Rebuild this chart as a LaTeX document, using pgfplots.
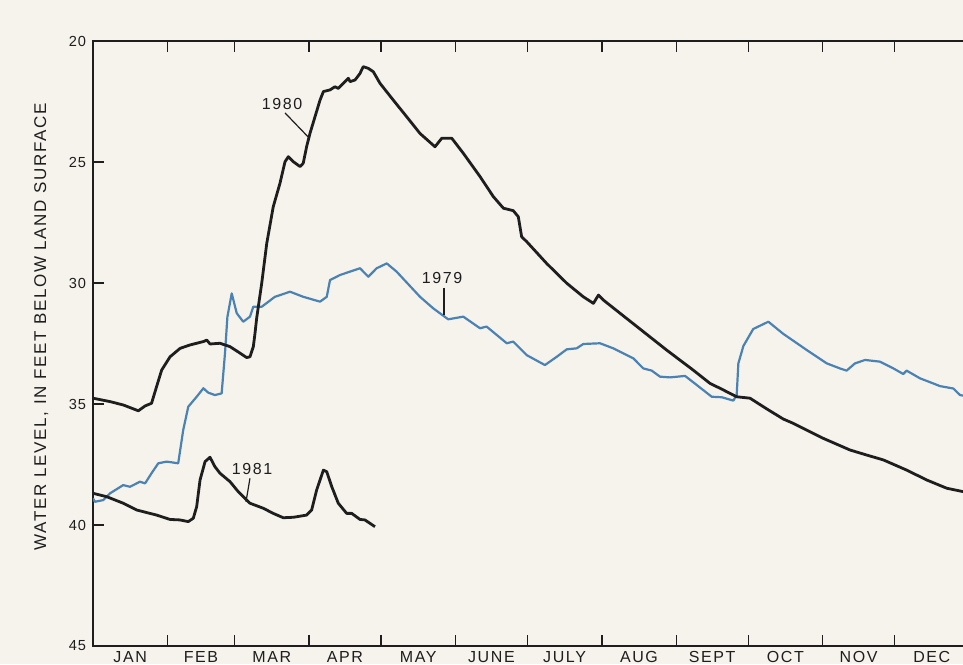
\documentclass[border=0pt]{standalone}
\usepackage{fontspec}
\setmainfont{Liberation Sans}
\newfontfamily\lab[LetterSpace=10]{Liberation Sans}
\newfontfamily\tk[LetterSpace=6]{Liberation Sans}
\usepackage{pgfplots}
\pgfplotsset{compat=1.18}
\definecolor{paper}{RGB}{246,243,236}
\definecolor{ink}{RGB}{30,30,30}
\definecolor{blueline}{RGB}{75,130,180}
\begin{document}
\begin{tikzpicture}
\fill[paper] (-46.5pt,-9pt) rectangle (435pt,323pt);
\begin{axis}[
 at={(0,0)}, anchor=south west,
 scale only axis, width=438pt, height=302.5pt,
 xmin=0, xmax=365, ymin=20, ymax=45, y dir=reverse,
 axis line style={draw=ink, line width=0.9pt},
 xtick={0,31,59,90,120,151,181,212,243,273,304,334,365},
 xticklabels={JAN,FEB,MAR,APR,MAY,JUNE,JULY,AUG,SEPT,OCT,NOV,DEC},
 x tick label as interval,
 ytick={20,25,30,35,40,45},
 ytick pos=left,
 xtick pos=both,
 tick align=inside,
 major tick length=5.5pt,
 tick style={draw=ink, line width=0.7pt},
 /pgf/number format/assume math mode=true,
 ticklabel style={font=\tk\fontsize{7.3}{8}\selectfont, text=ink},
 xticklabel style={font=\lab\fontsize{8}{9}\selectfont, inner sep=0pt, yshift=-2.6pt},
 ylabel={WATER LEVEL, IN FEET BELOW LAND SURFACE},
 ylabel style={font=\lab\fontsize{8.5}{9}\selectfont, text=ink, at={(axis description cs:-0.043,0.528)}, anchor=south},
]
% 1979 (blue)
\addplot[blueline, line width=1.1pt, no markers, line join=round] coordinates {
(0,38.9)(0.8,39.04)(4.3,38.97)(7.1,38.69)(12.6,38.35)(15.4,38.42)(19.6,38.21)(21.7,38.28)(24.4,37.86)(27.2,37.45)(30.7,37.38)(35.5,37.45)(37.6,36.07)(39.7,35.11)(43.2,34.7)(46,34.35)(48,34.53)(50.8,34.63)(53.6,34.56)(55,32.9)(56,31.4)(57.8,30.43)(59.9,31.25)(62.6,31.6)(65.4,31.39)(66.8,30.98)(70.3,30.98)(75.8,30.57)(82.1,30.36)(87.6,30.57)(94.6,30.77)(97.4,30.57)(98.75,29.88)(102.9,29.67)(107.1,29.53)(111.25,29.39)(114.7,29.74)(118.2,29.39)(122.4,29.19)(126.5,29.53)(136.25,30.57)(141.8,31.05)(148,31.5)(154.3,31.39)(161.25,31.87)(164,31.8)(172.4,32.49)(175.1,32.42)(180.7,32.98)(188.3,33.39)(193.2,33.05)(197.4,32.74)(201.5,32.7)(204.3,32.52)(211.25,32.49)(216.8,32.7)(219.6,32.84)(225.1,33.11)(229.3,33.53)(232.8,33.62)(236.25,33.87)(240.4,33.9)(246.7,33.84)(251.5,34.21)(257.8,34.7)(262,34.72)(266.8,34.86)(268.2,34.63)(268.9,33.32)(271,32.6)(275.1,31.9)(281.4,31.6)(287.6,32.1)(297.4,32.77)(305.7,33.32)(311.25,33.53)(314,33.62)(317.5,33.32)(321.7,33.18)(327.9,33.25)(333.5,33.53)(337.6,33.76)(339,33.62)(344.6,33.94)(350.1,34.15)(352.9,34.26)(358.5,34.36)(361.25,34.63)(365,34.7)
};
% 1980 (black)
\addplot[ink, line width=1.4pt, no markers, line join=round] coordinates {
(0,34.76)(7.1,34.9)(12.6,35.04)(18.9,35.28)(21.7,35.08)(24.4,34.97)(26.5,34.28)(28.6,33.6)(32.1,33.05)(36.3,32.7)(40.4,32.56)(46,32.42)(47.4,32.36)(48.8,32.52)(52.9,32.49)(57.1,32.63)(61.3,32.9)(64,33.08)(65.4,33.05)(66.8,32.63)(67.5,32.08)(68.2,31.45)(70.3,30.01)(72.4,28.36)(75.1,26.85)(77.9,25.88)(80,24.99)(81.4,24.78)(83.5,24.99)(86.3,25.19)(87.6,25.05)(89,24.37)(90.4,23.82)(92.5,23.13)(94.6,22.44)(96,22.09)(98.75,22.02)(100.8,21.89)(102.2,21.96)(105,21.68)(106.4,21.54)(107.1,21.68)(109.2,21.61)(111.25,21.34)(112.6,21.06)(114.7,21.13)(116.8,21.27)(119.6,21.75)(125.1,22.44)(130.7,23.13)(136.25,23.82)(142.5,24.37)(145.3,24.02)(149.5,24.02)(154.3,24.64)(161.25,25.6)(166.8,26.43)(171,26.91)(175.1,27.01)(177.2,27.26)(178.6,28.09)(180.7,28.29)(189,29.19)(197.4,30.01)(204.3,30.57)(208.5,30.84)(210.6,30.5)(212.6,30.7)(219.6,31.25)(227.9,31.9)(239,32.77)(250.1,33.6)(257.1,34.15)(261.25,34.35)(268.2,34.7)(273.75,34.76)(280.7,35.2)(287.6,35.62)(291.8,35.8)(304.3,36.42)(315.4,36.9)(322.4,37.11)(329.3,37.31)(339,37.73)(347.4,38.14)(355.7,38.48)(362.5,38.62)(365,38.65)
};
% 1981 (black)
\addplot[ink, line width=1.4pt, no markers, line join=round] coordinates {
(0,38.69)(5.7,38.83)(12.6,39.1)(18.2,39.38)(26.5,39.59)(32.1,39.77)(36.25,39.79)(39.7,39.86)(41.8,39.72)(43.2,39.24)(44.6,38.14)(46.7,37.38)(48.75,37.2)(50.8,37.59)(52.9,37.86)(57.1,38.21)(60.5,38.62)(65.4,39.1)(71,39.31)(75.1,39.52)(79.3,39.7)(83.5,39.68)(89,39.59)(91.1,39.38)(93.2,38.55)(96,37.73)(97.4,37.8)(99.5,38.42)(102.2,39.1)(105.7,39.52)(107.8,39.52)(111.25,39.77)(113.3,39.79)(117.5,40.07)
};
\node[font=\lab\fontsize{8}{9}\selectfont, text=ink] at (axis cs:78.75,22.6) {1980};
\draw[ink, line width=0.6pt] (axis cs:80,22.97) -- (axis cs:89.6,23.96);
\node[font=\lab\fontsize{8}{9}\selectfont, text=ink] at (axis cs:145.4,29.8) {1979};
\draw[ink, line width=0.6pt] (axis cs:146.25,30.2) -- (axis cs:146.25,31.32);
\node[font=\lab\fontsize{8}{9}\selectfont, text=ink] at (axis cs:66.25,37.69) {1981};
\draw[ink, line width=0.6pt] (axis cs:65.4,38.07) -- (axis cs:63.75,39.04);
\end{axis}
\pgfresetboundingbox
\path (-46.5pt,-9pt) rectangle (435pt,323pt);
\end{tikzpicture}
\end{document}
